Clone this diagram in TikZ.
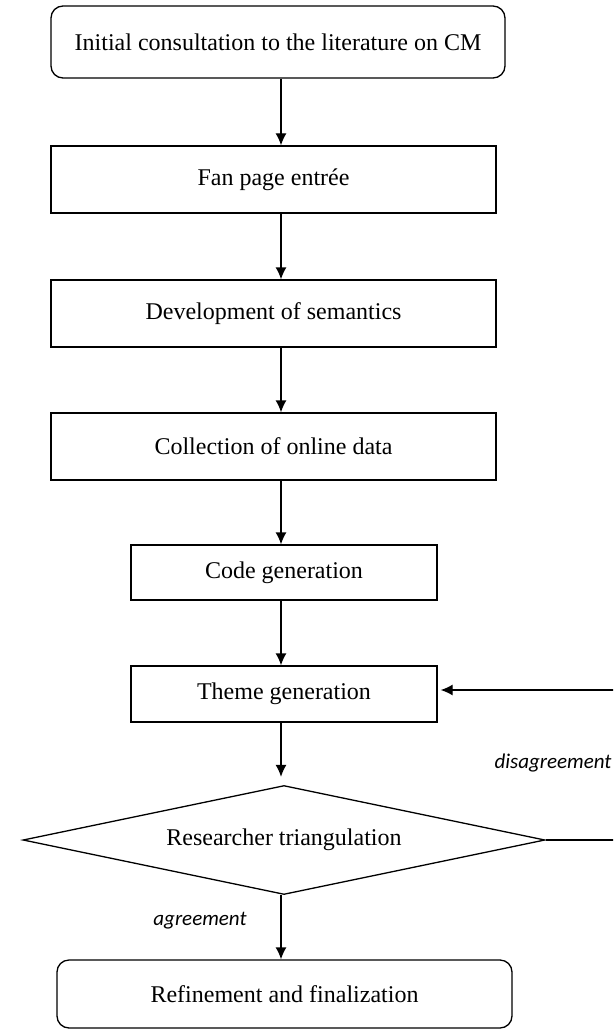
\documentclass[tikz,border=0pt]{standalone}
\usepackage{fontspec}
\setmainfont{Liberation Serif}
\newfontfamily\labfont{Carlito}
\usetikzlibrary{shapes.geometric,arrows.meta}
\begin{document}
\begin{tikzpicture}[x=1pt,y=-1pt,
  box/.style={draw, line width=1.3pt, inner sep=0pt, font=\fontsize{24}{28}\selectfont},
  rbox/.style={box, rounded corners=12pt},
  dec/.style={box, diamond, aspect=4.79},
  arr/.style={-{Latex[length=12pt,width=11pt]}, line width=1.3pt},
  line/.style={line width=1.3pt},
  lab/.style={font=\labfont\itshape\fontsize{21}{25}\selectfont, inner sep=0pt}]
\useasboundingbox (0,0) rectangle (613,1030);
\clip (0,0) rectangle (613,1030);

\node[rbox, minimum width=454pt, minimum height=72pt] (b1) at (278,42) {Initial consultation to the literature on CM};
\node[box, minimum width=445pt, minimum height=67pt] (b2) at (273.5,179.5) {Fan page entrée};
\node[box, minimum width=445pt, minimum height=67pt] (b3) at (273.5,313.5) {Development of semantics};
\node[box, minimum width=445pt, minimum height=67pt] (b4) at (273.5,446.5) {Collection of online data};
\node[box, minimum width=306pt, minimum height=55pt] (b5) at (284,572.5) {Code generation};
\node[box, minimum width=306pt, minimum height=56pt] (b6) at (284,694) {Theme generation};
\node[dec, minimum width=522pt, minimum height=109pt] (d) at (284,840) {Researcher triangulation};
\node[rbox, minimum width=455pt, minimum height=68pt] (b7) at (284.5,994) {Refinement and finalization};

\coordinate (ax) at (281,0);
\coordinate (fb) at (630,840);

\draw[arr] (ax |- b1.south) -- (ax |- b2.north);
\draw[arr] (ax |- b2.south) -- (ax |- b3.north);
\draw[arr] (ax |- b3.south) -- (ax |- b4.north);
\draw[arr] (ax |- b4.south) -- (ax |- b5.north);
\draw[arr] (ax |- b5.south) -- (ax |- b6.north);
\draw[arr] (ax |- b6.south) -- ([yshift=8pt]ax |- d.north);
\draw[arr] (ax |- d.south) -- (ax |- b7.north);
\draw[line] (d.east) -- (fb);
\draw[arr] (fb) |- ([xshift=3pt,yshift=4pt]b6.east);

\node[lab] (dis) at (553,763) {disagreement};
\node[lab] (agr) at (200,921) {agreement};
\end{tikzpicture}
\end{document}
